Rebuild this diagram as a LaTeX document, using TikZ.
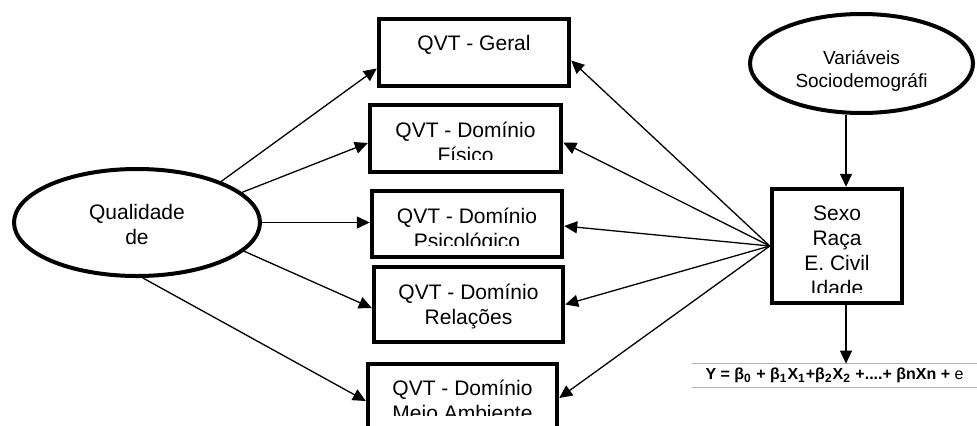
\documentclass[tikz,border=0pt]{standalone}
\usepackage{fontspec}
\setmainfont{Liberation Sans}
\usetikzlibrary{arrows.meta, positioning, shapes.geometric}

\begin{document}
\begin{tikzpicture}[x=0.5pt, y=0.5pt, font=\fontsize{10.5}{12.5}\selectfont,
  qvtbox/.style={draw, line width=2.2pt, minimum width=95pt, inner sep=0pt},
  boxtext/.style={inner sep=0pt, align=center},
  latent/.style={draw, ellipse, line width=2pt, inner sep=0pt, align=center},
  link/.style={-{Triangle[length=6.5pt, width=6pt]}, line width=0.65pt}]
  \useasboundingbox (0,0) rectangle (977,425);

  % latent variables
  \node[latent, minimum width=123pt, minimum height=53.5pt] (qual) at (137,202.5) {};
  \node[boxtext] (qual-t) at ([yshift=-1pt]qual.center) {Qualidade\\de};
  \node[latent, minimum width=111.5pt, minimum height=49.5pt] (socio) at (861.5,361.5) {};
  \node[boxtext, font=\fontsize{9.5}{11.5}\selectfont] (socio-t) at ([yshift=-3.5pt]socio.center) {Variáveis\\Sociodemográfi};

  % QVT outcome boxes
  \node[qvtbox, minimum height=33.5pt] (geral) at (474,372.5) {};
  \node[boxtext, below=9pt of geral.north] (geral-t) {QVT - Geral};

  \node[qvtbox, minimum width=95.5pt, minimum height=33.5pt] (fisico) at (465.5,286.5) {};
  \begin{scope}
    \clip (fisico.north west) rectangle (fisico.east |- 0,265.5);
    \node[boxtext, below=9.5pt of fisico.north] (fisico-t) {QVT - Domínio\\Físico};
  \end{scope}

  \node[qvtbox, minimum height=33pt] (psico) at (467,201) {};
  \begin{scope}
    \clip (psico.north west) rectangle (psico.east |- 0,180);
    \node[boxtext, below=9.5pt of psico.north] (psico-t) {QVT - Domínio\\Psicológico};
  \end{scope}

  \node[qvtbox, minimum width=94.5pt, minimum height=37.5pt] (relacoes) at (468.5,120.5) {};
  \node[boxtext, below=9.5pt of relacoes.north] (relacoes-t) {QVT - Domínio\\Relações};

  \node[qvtbox, minimum width=94.5pt, minimum height=37pt] (meio) at (462.5,24) {};
  \begin{scope}
    \clip (meio.north west) rectangle (meio.east |- 0,10);
    \node[boxtext, below=9pt of meio.north] (meio-t) {QVT - Domínio\\Meio Ambiente};
  \end{scope}

  % covariates
  \node[qvtbox, minimum width=65pt, minimum height=57pt] (sexo) at (837,179) {};
  \begin{scope}
    \clip (sexo.north west) rectangle (sexo.east |- 0,133);
    \node[boxtext, below=9.5pt of sexo.north] (sexo-t) {Sexo\\Raça\\E. Civil\\Idade};
  \end{scope}

  % regression equation
  \node[minimum width=142.5pt, minimum height=11.5pt, inner sep=0pt, font=\fontsize{8}{8}\selectfont\bfseries] (eq) at (834.5,49.5)
    {Y = β\textsubscript{0} + β\textsubscript{1}X\textsubscript{1}+β\textsubscript{2}X\textsubscript{2} +....+ βnXn + \textmd{e}};
  \draw[gray!60, line width=0.8pt] (eq.north west) -- (eq.north east);
  \draw[gray!60, line width=0.8pt] (eq.south west) -- (eq.south east);

  \coordinate (drop) at (846,0);
  \draw[link] (socio.south -| drop) -- (sexo.north -| drop);
  \draw[link] (sexo.south -| drop) -- (eq.north -| drop);

  % arrows from Qualidade
  \draw[link] (qual.26.6) -- ([yshift=-8pt]geral.west);
  \draw[link] (qual.16.2) -- ([yshift=-2.25pt]fisico.west);
  \draw[link] (qual.east) -- (qual.east -| psico.west);
  \draw[link] (qual.-15) -- ([yshift=-1.75pt]relacoes.west);
  \draw[link] (qual.-84) -- (meio.west);

  % arrows from Sexo
  \draw[link] (sexo.west) -- ([yshift=-4pt]geral.east);
  \draw[link] (sexo.west) -- ([yshift=-2pt]fisico.east);
  \draw[link] (sexo.west) -- ([yshift=-1pt]psico.east);
  \draw[link] (sexo.west) -- (relacoes.east);
  \draw[link] (sexo.west) -- ([yshift=1.5pt]meio.east);
\end{tikzpicture}
\end{document}
